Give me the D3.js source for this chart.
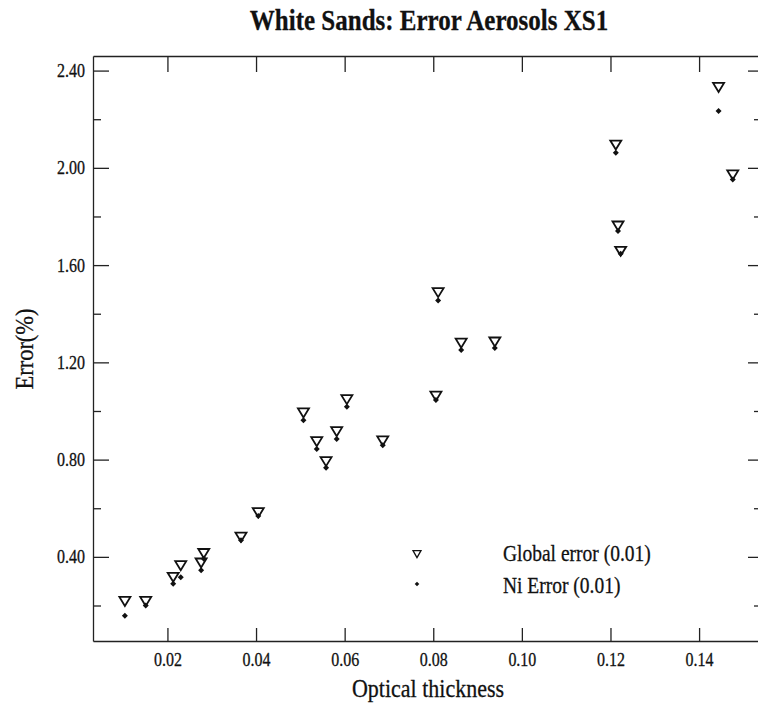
<!DOCTYPE html>
<html lang="en">
<head>
<meta charset="UTF-8">
<title>White Sands: Error Aerosols XS1</title>
<script src="https://d3js.org/d3.v7.min.js"></script>
<style>
  body { margin: 0; background: #fff; }
  svg text { font-family: "Liberation Serif", "Times New Roman", serif; fill: #111; stroke: #111; stroke-width: 0.25; }
  .axis path, .axis line { stroke: #222; stroke-width: 1.3; }
</style>
</head>
<body>
<svg id="chart" width="758" height="706"></svg>
<script>
(function () {
  'use strict';

  // optical thickness of each sample
  const thickness = [0.0104, 0.0151, 0.0213, 0.0230, 0.0276, 0.0282, 0.0366, 0.0405,
                     0.0507, 0.0537, 0.0558, 0.0582, 0.0605, 0.0686, 0.0806, 0.0811,
                     0.0863, 0.0939, 0.1212, 0.1217, 0.1223, 0.1444, 0.1476];
  // Global error (0.01), in %
  const globalErr = [0.223, 0.223, 0.322, 0.370, 0.381, 0.420, 0.487, 0.588,
                     0.998, 0.880, 0.798, 0.921, 1.053, 0.883, 1.067, 1.493,
                     1.285, 1.290, 2.100, 1.767, 1.663, 2.337, 1.977];
  // Ni Error (0.01), in %
  const niErr = [0.158, 0.200, 0.289, 0.316, 0.345, 0.392, 0.468, 0.568,
                 0.962, 0.844, 0.767, 0.885, 1.017, 0.859, 1.045, 1.454,
                 1.251, 1.259, 2.062, 1.740, 1.647, 2.234, 1.952];

  const xTicks = [0.02, 0.04, 0.06, 0.08, 0.10, 0.12, 0.14];
  const yMajor = [0.40, 0.80, 1.20, 1.60, 2.00, 2.40];
  const yMinor = [0.20, 0.60, 1.00, 1.40, 1.80, 2.20];

  const svg = d3.select('#chart');
  const left = 93, right = 762, top = 56, bottom = 641;
  const stretch = 1.15;  // the scanned type is taller than plain Times

  const x = d3.scaleLinear().domain([0.0032, 0.1542]).range([left, right]);
  const y = d3.scaleLinear().domain([0.054, 2.46]).range([bottom, top]);

  // move x/y of a text into a transform so the glyphs can be stretched
  function tall(sel) {
    sel.each(function () {
      const t = d3.select(this);
      const tx = +t.attr('x') || 0, ty = +t.attr('y') || 0;
      t.attr('x', null).attr('y', null)
       .attr('transform', `translate(${tx},${ty}) scale(1,${stretch})`);
    });
  }

  // axes, ticks pointing inward
  svg.append('g').attr('class', 'axis')
      .attr('transform', `translate(0,${bottom})`)
      .call(d3.axisBottom(x).tickValues(xTicks).tickSize(-13).tickSizeOuter(0)
            .tickPadding(12).tickFormat(d3.format('.2f')))
      .call(g => g.selectAll('text').style('font-size', '16px').call(tall));

  svg.append('g').attr('class', 'axis')
      .attr('transform', `translate(0,${top})`)
      .call(d3.axisTop(x).tickValues(xTicks).tickSize(-16).tickSizeOuter(0).tickFormat(''));

  svg.append('g').attr('class', 'axis')
      .attr('transform', `translate(${left},0)`)
      .call(d3.axisLeft(y).tickValues(yMajor).tickSize(-16).tickSizeOuter(0)
            .tickPadding(8).tickFormat(d3.format('.2f')))
      .call(g => g.selectAll('text').style('font-size', '16px').call(tall));

  svg.append('g').attr('class', 'axis')
      .attr('transform', `translate(${left},0)`)
      .call(d3.axisLeft(y).tickValues(yMinor).tickSize(-8).tickSizeOuter(0).tickFormat(''))
      .call(g => g.select('.domain').remove());

  svg.append('g').attr('class', 'axis')
      .attr('transform', `translate(${right},0)`)
      .call(d3.axisRight(y).tickValues(yMajor).tickSize(-14).tickSizeOuter(0).tickFormat(''));

  svg.append('g').attr('class', 'axis')
      .attr('transform', `translate(${right},0)`)
      .call(d3.axisRight(y).tickValues(yMinor).tickSize(-8).tickSizeOuter(0).tickFormat(''))
      .call(g => g.select('.domain').remove());

  // markers
  const tri = (w, h) => `M${-w / 2},${-h / 3}L${w / 2},${-h / 3}L0,${2 * h / 3}Z`;
  const dot = r => `M0,${-r}L${r},0L0,${r}L${-r},0Z`;

  svg.append('g').selectAll('path')
      .data(thickness.map((t, i) => [t, globalErr[i]]))
      .join('path')
      .attr('transform', d => `translate(${x(d[0])},${y(d[1])})`)
      .attr('d', tri(11, 9))
      .attr('fill', 'none')
      .attr('stroke', '#111')
      .attr('stroke-width', 1.8)
      .attr('stroke-linejoin', 'miter');

  svg.append('g').selectAll('path')
      .data(thickness.map((t, i) => [t, niErr[i]]))
      .join('path')
      .attr('transform', d => `translate(${x(d[0])},${y(d[1])})`)
      .attr('d', dot(3))
      .attr('fill', '#111');

  // legend
  const legend = svg.append('g');
  legend.append('path').attr('transform', 'translate(417,553)')
      .attr('d', tri(8, 7)).attr('fill', 'none').attr('stroke', '#111').attr('stroke-width', 1.3);
  legend.append('path').attr('transform', 'translate(417,584)')
      .attr('d', dot(2.3)).attr('fill', '#111');
  legend.append('text').attr('x', 503).attr('y', 560.5)
      .style('font-size', '19.5px').text('Global error (0.01)');
  legend.append('text').attr('x', 503).attr('y', 593)
      .style('font-size', '19.5px').text('Ni Error (0.01)');
  legend.selectAll('text').call(tall);

  // titles
  svg.append('text').attr('x', 429).attr('y', 30).attr('text-anchor', 'middle')
      .style('font-size', '25px').style('font-weight', 'bold')
      .text('White Sands: Error Aerosols XS1').call(tall);
  svg.append('text').attr('x', 428).attr('y', 697).attr('text-anchor', 'middle')
      .style('font-size', '22px').text('Optical thickness').call(tall);
  svg.append('text').attr('transform', `translate(33,349) rotate(-90) scale(1,${stretch})`)
      .attr('text-anchor', 'middle').style('font-size', '22.5px').text('Error(%)');
}());
</script>
</body>
</html>
